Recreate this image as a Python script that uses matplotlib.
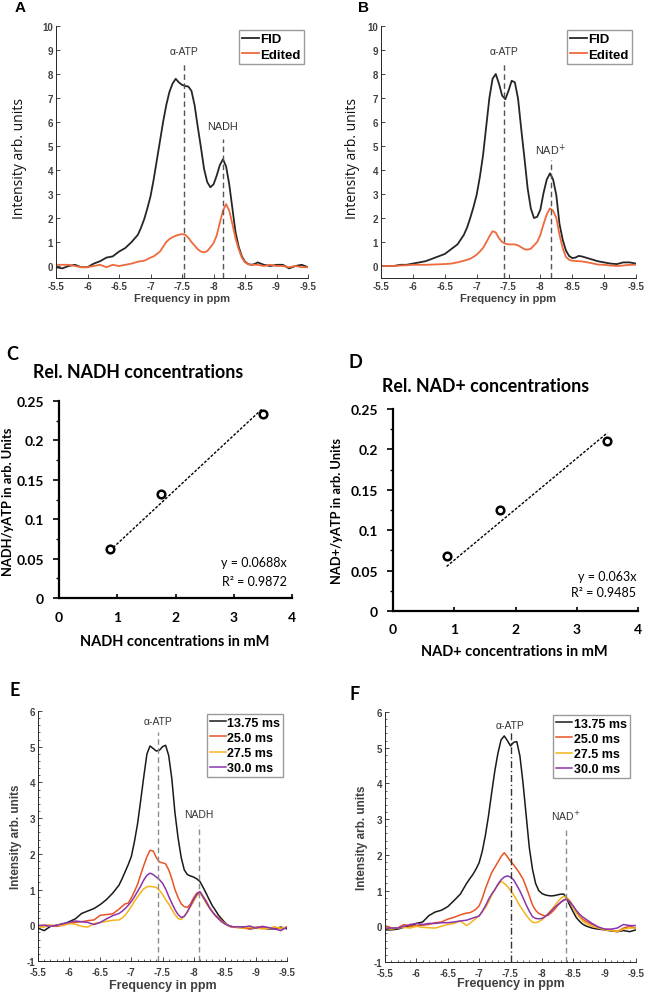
import matplotlib.pyplot as plt
import matplotlib.ticker as mticker

W, H = 646, 995

# chemical shift grid (ppm) shared by all spectra
ppm = [-5.5, -5.6, -5.7, -5.8, -5.9, -6.0, -6.1, -6.2, -6.3, -6.4, -6.5, -6.6, -6.7,
       -6.8, -6.85, -6.9, -6.95, -7.0, -7.05, -7.1, -7.15, -7.2, -7.25, -7.3, -7.35,
       -7.4, -7.45, -7.5, -7.55, -7.6, -7.65, -7.7, -7.75, -7.8, -7.85, -7.9, -7.95,
       -8.0, -8.05, -8.1, -8.15, -8.2, -8.25, -8.3, -8.35, -8.4, -8.45, -8.5, -8.55,
       -8.6, -8.65, -8.7,
       -8.8, -8.9, -9.0, -9.1, -9.2, -9.3, -9.4, -9.5]

# panel A (NADH)
a_fid = [-0.05, -0.1, 0.0, 0.05, -0.05, -0.05, 0.1, 0.2, 0.35, 0.4, 0.6, 0.75, 1.0,
         1.3, 1.6, 1.95, 2.4, 2.9, 3.6, 4.4, 5.2, 6.0, 6.7,
         7.25, 7.6, 7.8, 7.65, 7.55, 7.5, 7.48, 7.3, 6.7, 5.8,
         4.95, 4.05, 3.5, 3.28, 3.4, 3.76, 4.2, 4.45, 4.15, 3.4,
         2.4, 1.4, 0.8, 0.4, 0.18, 0.08, 0.05, 0.08, 0.15,
         0.05, 0.0, 0.05, 0.05, -0.1, 0.0, 0.05, -0.05]
a_edit = [0.05, 0.05, 0.05, 0.0, -0.05, -0.05, 0.0, 0.05, -0.05, 0.05, 0.0, 0.05, 0.1,
          0.18, 0.2, 0.22, 0.28, 0.35, 0.4, 0.5, 0.6, 0.8, 1.0,
          1.12, 1.2, 1.26, 1.3, 1.33, 1.3, 1.18, 1.0, 0.85, 0.7,
          0.6, 0.57, 0.62, 0.78, 0.95, 1.26, 1.8, 2.3, 2.58, 2.3,
          1.75, 1.15, 0.7, 0.35, 0.15, 0.08, 0.05, 0.05, 0.05,
          0.0, 0.05, 0.0, 0.0, -0.05, 0.0, -0.05, -0.05]

# panel B (NAD+)
b_fid = [0.0, 0.0, 0.0, 0.05, 0.05, 0.1, 0.15, 0.2, 0.3, 0.4, 0.5, 0.7, 0.9,
         1.3, 1.6, 2.0, 2.45, 2.96, 3.7, 4.6, 5.8, 7.0, 7.8,
         8.0, 7.6, 7.1, 6.95, 7.3, 7.72, 7.65, 6.97, 5.7, 4.5,
         3.24, 2.4, 2.0, 2.05, 2.35, 3.05, 3.6, 3.86, 3.6, 2.95,
         1.75, 1.1, 0.65, 0.42, 0.33, 0.35, 0.42, 0.4, 0.36,
         0.28, 0.2, 0.15, 0.1, 0.08, 0.15, 0.15, 0.1]
b_edit = [0.0, 0.0, 0.0, 0.02, 0.03, 0.05, 0.05, 0.05, 0.06, 0.07, 0.08, 0.1, 0.15,
          0.22, 0.26, 0.3, 0.38, 0.47, 0.6, 0.75, 0.98, 1.23, 1.45,
          1.4, 1.16, 1.0, 0.93, 0.9, 0.9, 0.9, 0.86, 0.78, 0.7,
          0.68, 0.72, 0.86, 1.0, 1.3, 1.75, 2.15, 2.4, 2.3, 2.0,
          1.3, 0.75, 0.38, 0.26, 0.22, 0.21, 0.2, 0.19, 0.17,
          0.12, 0.06, 0.05, 0.02, 0.0, 0.02, 0.05, 0.05]

# panel E (NADH, echo times)
e_1375 = [-0.08, -0.15, -0.03, 0.0, 0.03, 0.1, 0.18, 0.33, 0.4, 0.47, 0.58, 0.72, 0.9,
          1.12, 1.3, 1.5, 1.7, 1.93, 2.35, 2.85, 3.5, 4.17, 4.8,
          5.02, 4.95, 4.88, 4.9, 5.0, 5.04, 4.75, 4.1, 3.15, 2.45,
          1.9, 1.55, 1.42, 1.38, 1.35, 1.3, 1.23, 1.07, 0.9, 0.72,
          0.55, 0.42, 0.28, 0.18, 0.08, 0.0, -0.03, -0.05, -0.05,
          -0.05, -0.1, -0.08, -0.08, -0.1, -0.1, -0.05, -0.1]
e_250 = [-0.05, 0.0, 0.0, -0.03, 0.0, 0.05, 0.08, 0.1, 0.13, 0.15, 0.28, 0.3, 0.32,
         0.45, 0.53, 0.6, 0.62, 0.77, 0.95, 1.15, 1.42, 1.68, 1.92,
         2.1, 2.08, 1.9, 1.77, 1.75, 1.72, 1.55, 1.3, 1.0, 0.78,
         0.6, 0.52, 0.5, 0.6, 0.77, 0.9, 0.94, 0.82, 0.68, 0.52,
         0.38, 0.28, 0.2, 0.13, 0.06, 0.0, -0.05, -0.05, -0.06,
         -0.08, -0.1, -0.05, -0.05, -0.1, -0.05, -0.1, -0.05]
e_275 = [-0.05, -0.05, 0.0, 0.0, 0.0, 0.05, 0.03, -0.03, -0.05, 0.05, 0.08, 0.11, 0.14,
         0.15, 0.2, 0.28, 0.4, 0.53, 0.67, 0.8, 0.92, 1.02, 1.08,
         1.09, 1.08, 1.06, 0.98, 0.87, 0.72, 0.6, 0.44, 0.3, 0.19,
         0.16, 0.25, 0.38, 0.52, 0.67, 0.82, 0.92, 0.78, 0.62, 0.5,
         0.38, 0.27, 0.18, 0.1, 0.05, 0.0, -0.04, -0.06, -0.06,
         -0.08, -0.05, -0.08, -0.1, -0.08, -0.05, -0.08, -0.05]
e_300 = [0.0, 0.0, -0.03, 0.0, 0.05, 0.08, 0.12, 0.1, 0.08, 0.02, 0.08, 0.18, 0.27,
         0.33, 0.39, 0.47, 0.56, 0.67, 0.8, 0.95, 1.1, 1.27, 1.4,
         1.46, 1.42, 1.35, 1.28, 1.18, 1.02, 0.81, 0.62, 0.44, 0.3,
         0.22, 0.25, 0.38, 0.55, 0.72, 0.86, 0.94, 0.8, 0.66, 0.5,
         0.38, 0.27, 0.18, 0.1, 0.04, 0.0, -0.03, -0.05, -0.04,
         -0.05, -0.02, -0.08, -0.03, -0.06, -0.1, -0.15, -0.05]

# panel F (NAD+, echo times)
f_1375 = [-0.1, -0.1, -0.08, -0.03, 0.0, 0.08, 0.12, 0.3, 0.4, 0.45, 0.55, 0.72, 0.9,
          1.2, 1.33, 1.45, 1.6, 1.78, 2.1, 2.55, 3.1, 3.74, 4.35,
          4.85, 5.22, 5.33, 5.2, 5.05, 5.15, 5.17, 4.77, 4.0, 3.1,
          2.2, 1.6, 1.2, 1.0, 0.92, 0.88, 0.86, 0.85, 0.86, 0.88,
          0.9, 0.9, 0.75, 0.57, 0.4, 0.24, 0.14, 0.06, 0.01,
          -0.05, -0.08, -0.1, -0.13, -0.15, -0.12, -0.15, -0.1]
f_250 = [0.02, -0.05, -0.05, 0.05, 0.0, 0.02, 0.03, 0.05, 0.1, 0.12, 0.2, 0.25, 0.32,
         0.37, 0.38, 0.42, 0.48, 0.57, 0.78, 1.05, 1.28, 1.5, 1.65,
         1.8, 1.95, 2.06, 1.95, 1.82, 1.72, 1.6, 1.47, 1.32, 1.1,
         0.85, 0.6, 0.45, 0.36, 0.32, 0.29, 0.31, 0.38, 0.47, 0.58,
         0.67, 0.74, 0.76, 0.66, 0.52, 0.4, 0.28, 0.2, 0.14,
         0.05, -0.03, -0.08, -0.1, -0.15, -0.05, 0.0, -0.05]
f_275 = [-0.05, -0.08, -0.05, -0.03, -0.05, 0.0, -0.03, -0.04, -0.05, 0.0, 0.05, 0.08, 0.15,
         0.02, 0.08, 0.15, 0.22, 0.29, 0.4, 0.52, 0.68, 0.87, 1.04,
         1.15, 1.26, 1.2, 1.12, 1.0, 0.88, 0.73, 0.57, 0.44, 0.31,
         0.2, 0.11, 0.1, 0.13, 0.18, 0.26, 0.36, 0.46, 0.57, 0.68,
         0.78, 0.84, 0.8, 0.71, 0.53, 0.36, 0.25, 0.15, 0.08,
         0.0, -0.05, -0.1, -0.12, -0.15, -0.08, -0.05, -0.05]
f_300 = [-0.05, -0.05, -0.05, 0.0, 0.05, 0.08, 0.05, 0.08, 0.08, 0.1, 0.1, 0.12, 0.15,
         0.17, 0.2, 0.23, 0.26, 0.29, 0.42, 0.57, 0.75, 0.9, 1.02,
         1.18, 1.3, 1.38, 1.41, 1.38, 1.3, 1.15, 0.99, 0.8, 0.6,
         0.42, 0.27, 0.22, 0.21, 0.22, 0.27, 0.34, 0.43, 0.52, 0.6,
         0.67, 0.73, 0.76, 0.68, 0.57, 0.44, 0.34, 0.26, 0.2,
         0.08, -0.02, -0.08, -0.08, -0.05, 0.05, 0.02, 0.02]

# panels C / D (phantom series)
conc_mm = [0.875, 1.75, 3.5]
nadh_ratio = [0.062, 0.132, 0.234]
nad_ratio = [0.068, 0.125, 0.21]
nadh_slope, nadh_r2 = 0.0688, 0.9872
nad_slope, nad_r2 = 0.063, 0.9485

ppm_ticks = [-5.5, -6, -6.5, -7, -7.5, -8, -8.5, -9, -9.5]
ppm_labels = ['-5.5', '-6', '-6.5', '-7', '-7.5', '-8', '-8.5', '-9', '-9.5']
te_labels = ['13.75 ms', '25.0 ms', '27.5 ms', '30.0 ms']
te_colors = ['#1a1a1a', '#ea5424', '#f5b41c', '#8a35ad']

ARIAL = 'Liberation Sans'
CALIBRI = 'Lato'
GRAY = '#404040'


def box(l, t, r, b):
    return [l / W, 1 - b / H, (r - l) / W, (b - t) / H]


def ftext(x, y, s, **kw):
    fig.text(x / W, 1 - y / H, s, **kw)


def style_spectrum(ax, ylim, yticks, minor, labelsize, xpad):
    ax.set_xlim(-5.5, -9.5)
    ax.set_ylim(*ylim)
    ax.set_xticks(ppm_ticks)
    ax.set_xticklabels(ppm_labels)
    ax.set_yticks(yticks)
    ax.set_yticklabels([str(v) for v in yticks])
    for s in ('top', 'right'):
        ax.spines[s].set_visible(False)
    for s in ('left', 'bottom'):
        ax.spines[s].set_color('#262626')
        ax.spines[s].set_linewidth(0.7)
    ax.tick_params(direction='in', length=3, width=0.6, color='#262626',
                   labelcolor=GRAY, labelsize=labelsize, pad=2)
    ax.tick_params(axis='x', pad=xpad)
    if minor:
        ax.xaxis.set_minor_locator(mticker.MultipleLocator(0.1))
        ax.yaxis.set_minor_locator(mticker.MultipleLocator(0.2))
        ax.tick_params(which='minor', direction='in', length=1.5, width=0.5, color='#262626')
    for lab in ax.get_xticklabels() + ax.get_yticklabels():
        lab.set_fontweight('bold')
        lab.set_family(ARIAL)


def peak_marker(ax, x, ymin, ytop, label, ylab, color='#555555', ls=(0, (4, 2.5)), size=7.5):
    ax.plot([x, x], [ymin, ytop], color=color, lw=1.0, ls=ls)
    ax.text(x, ylab, label, ha='center', va='center', fontsize=size,
            family=ARIAL, color='#333333')


def style_scatter(ax):
    ax.set_xlim(0, 4)
    ax.set_ylim(0, 0.25)
    ax.set_xticks([0, 1, 2, 3, 4])
    ax.set_xticklabels(['0', '1', '2', '3', '4'])
    ax.set_yticks([0, 0.05, 0.1, 0.15, 0.2, 0.25])
    ax.set_yticklabels(['0', '0.05', '0.1', '0.15', '0.2', '0.25'])
    ax.yaxis.set_minor_locator(mticker.MultipleLocator(0.025))
    for s in ('top', 'right'):
        ax.spines[s].set_visible(False)
    for s in ('left', 'bottom'):
        ax.spines[s].set_linewidth(1.6)
    ax.tick_params(axis='y', which='major', direction='out', length=4, width=1.2,
                   labelsize=10, pad=7)
    ax.tick_params(axis='y', which='minor', direction='out', length=2.5, width=1.0)
    ax.tick_params(axis='x', which='major', direction='in', length=3, width=1.2,
                   labelsize=10, pad=9)
    for lab in ax.get_xticklabels() + ax.get_yticklabels():
        lab.set_fontweight('bold')
        lab.set_family(CALIBRI)


def spectrum_legend(ax, anchor, size, spacing):
    ax.legend(loc='upper right', bbox_to_anchor=anchor, borderaxespad=0,
              prop={'family': ARIAL, 'weight': 'bold', 'size': size}, handlelength=1.3,
              handletextpad=0.1, labelspacing=spacing, borderpad=0.25, fancybox=False,
              edgecolor='#9a9a9a', framealpha=1)


fig = plt.figure(figsize=(W / 100, H / 100), dpi=100)

# ---------------- A ----------------
axA = fig.add_axes(box(56, 27, 308, 279))
axA.plot(ppm, a_fid, color='#262626', lw=1.3, label='FID')
axA.plot(ppm, a_edit, color='#ee6a3c', lw=1.3, label='Edited')
style_spectrum(axA, (-0.5, 10), list(range(0, 11)), False, 7, 2.5)
peak_marker(axA, -7.53, -0.5, 8.45, '\u03b1-ATP', 8.95)
peak_marker(axA, -8.15, -0.5, 5.3, 'NADH', 5.85, size=7.8)
spectrum_legend(axA, (0.985, 0.985), 9.5, 0.25)
axA.set_xlabel('Frequency in ppm', family=ARIAL, fontweight='bold', fontsize=8, color=GRAY)
axA.xaxis.set_label_coords(0.5, -0.06)
axA.set_ylabel('Intensity arb. units', family='Open Sans', fontsize=10, color='#111111')
axA.yaxis.set_label_coords(-0.115, 0.48)
ftext(20, 8, 'A', family=ARIAL, fontweight='bold', fontsize=11, ha='center', va='center')

# ---------------- B ----------------
axB = fig.add_axes(box(381, 27, 636, 279))
axB.plot(ppm, b_fid, color='#262626', lw=1.3, label='FID')
axB.plot(ppm, b_edit, color='#ee6a3c', lw=1.3, label='Edited')
style_spectrum(axB, (-0.5, 10), list(range(0, 11)), False, 7, 2.5)
peak_marker(axB, -7.43, -0.5, 8.4, '\u03b1-ATP', 8.95)
peak_marker(axB, -8.16, -0.5, 4.4, 'NAD$^{+}$', 4.85, size=7.8)
spectrum_legend(axB, (0.985, 0.985), 9.5, 0.25)
axB.set_xlabel('Frequency in ppm', family=ARIAL, fontweight='bold', fontsize=8, color=GRAY)
axB.xaxis.set_label_coords(0.5, -0.06)
axB.set_ylabel('Intensity arb. units', family='Open Sans', fontsize=10, color='#111111')
axB.yaxis.set_label_coords(-0.082, 0.48)
ftext(363, 8, 'B', family=ARIAL, fontweight='bold', fontsize=11, ha='center', va='center')

# ---------------- C ----------------
axC = fig.add_axes(box(59, 402, 292, 599))
axC.plot([conc_mm[0], conc_mm[-1]], [nadh_slope * conc_mm[0], nadh_slope * conc_mm[-1]],
         color='black', lw=1.0, ls=(0, (2, 1.2)))
axC.plot(conc_mm, nadh_ratio, 'o', mfc='white', mec='black', mew=1.8, ms=5.5)
style_scatter(axC)
ftext(12, 355, 'C', family=CALIBRI, fontweight='bold', fontsize=13, ha='center', va='center')
ftext(138, 372, 'Rel. NADH concentrations', family=CALIBRI, fontweight='bold',
      fontsize=12.8, ha='center', va='center')
ftext(8, 502, 'NADH/yATP in arb. Units', family=CALIBRI, fontweight='bold',
      fontsize=9.3, rotation=90, ha='center', va='center')
ftext(175, 642, 'NADH concentrations in mM', family=CALIBRI, fontweight='bold',
      fontsize=10.5, ha='center', va='center')
ftext(287, 563, 'y = %sx' % nadh_slope, family=CALIBRI, fontsize=9, ha='right', va='center')
ftext(287, 582, 'R\u00b2 = %s' % nadh_r2, family=CALIBRI, fontsize=9, ha='right', va='center')

# ---------------- D ----------------
axD = fig.add_axes(box(393, 410, 638, 612))
axD.plot([conc_mm[0], conc_mm[-1]], [nad_slope * conc_mm[0], nad_slope * conc_mm[-1]],
         color='black', lw=1.0, ls=(0, (2, 1.2)))
axD.plot(conc_mm, nad_ratio, 'o', mfc='white', mec='black', mew=1.8, ms=5.5)
style_scatter(axD)
ftext(355, 363, 'D', family=CALIBRI, fontweight='bold', fontsize=13, ha='center', va='center')
ftext(486, 387, 'Rel. NAD+ concentrations', family=CALIBRI, fontweight='bold',
      fontsize=12.8, ha='center', va='center')
ftext(337, 511, 'NAD+/yATP in arb. Units', family=CALIBRI, fontweight='bold',
      fontsize=9.3, rotation=90, ha='center', va='center')
ftext(514, 652, 'NAD+ concentrations in mM', family=CALIBRI, fontweight='bold',
      fontsize=10.5, ha='center', va='center')
ftext(636, 577, 'y = %sx' % nad_slope, family=CALIBRI, fontsize=9, ha='right', va='center')
ftext(636, 593, 'R\u00b2 = %s' % nad_r2, family=CALIBRI, fontsize=9, ha='right', va='center')

# ---------------- E ----------------
axE = fig.add_axes(box(38, 712, 287, 962))
for vals, lab, col in zip([e_1375, e_250, e_275, e_300], te_labels, te_colors):
    axE.plot(ppm, vals, color=col, lw=1.1, label=lab)
style_spectrum(axE, (-1, 6), list(range(-1, 7)), True, 7, 4.2)
peak_marker(axE, -7.42, -1, 5.4, '\u03b1-ATP', 5.72, color='#8c8c8c')
peak_marker(axE, -8.08, -1, 2.82, 'NADH', 3.12, color='#8c8c8c')
spectrum_legend(axE, (0.985, 0.99), 9, 0.25)
axE.set_xlabel('Frequency in ppm', family=ARIAL, fontweight='bold', fontsize=9, color=GRAY)
axE.xaxis.set_label_coords(0.5, -0.074)
axE.set_ylabel('Intensity arb. units', family=ARIAL, fontweight='bold', fontsize=8.5, color=GRAY)
axE.yaxis.set_label_coords(-0.064, 0.5)
ftext(15, 690, 'E', family=CALIBRI, fontweight='bold', fontsize=13, ha='center', va='center')

# ---------------- F ----------------
axF = fig.add_axes(box(385, 713, 636, 963))
for vals, lab, col in zip([f_1375, f_250, f_275, f_300], te_labels, te_colors):
    axF.plot(ppm, vals, color=col, lw=1.1, label=lab)
style_spectrum(axF, (-1, 6), list(range(-1, 7)), True, 7, 4.2)
peak_marker(axF, -7.50, -1, 5.45, '\u03b1-ATP', 5.63, color='#333333', ls=(0, (5, 2, 1, 2)))
peak_marker(axF, -8.38, -1, 2.76, 'NAD$^{+}$', 3.09, color='#8c8c8c')
spectrum_legend(axF, (0.975, 0.99), 9, 0.25)
axF.set_xlabel('Frequency in ppm', family=ARIAL, fontweight='bold', fontsize=9, color=GRAY)
axF.xaxis.set_label_coords(0.5, -0.062)
axF.set_ylabel('Intensity arb. units', family=ARIAL, fontweight='bold', fontsize=8.5, color=GRAY)
axF.yaxis.set_label_coords(-0.068, 0.5)
ftext(355, 694, 'F', family=CALIBRI, fontweight='bold', fontsize=13, ha='center', va='center')

fig.savefig('out.png', dpi=100, facecolor='white')
